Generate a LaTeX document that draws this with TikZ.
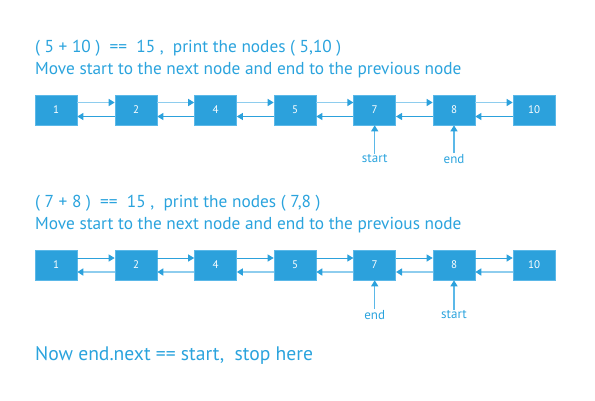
\documentclass[tikz,border=0pt]{standalone}
\usepackage{fontspec}
\setmainfont{PT Sans}
\usetikzlibrary{arrows.meta}
\definecolor{nodeblue}{HTML}{2CA1DC}
\definecolor{lightblue}{HTML}{8ECDEE}
\definecolor{midblue}{HTML}{5BB8E8}
\definecolor{txtblue}{HTML}{2AA3DD}
\tikzset{
  box/.style={draw=midblue, line width=0.6pt, fill=nodeblue, minimum width=42pt, minimum height=30pt, inner sep=0pt, text=white, font=\fontsize{11}{13}\selectfont},
  tip/.style={-{Triangle[length=6pt,width=7pt,color=nodeblue]}},
  darkarrow/.style={tip, draw=nodeblue, line width=1pt},
  lightarrow/.style={tip, draw=lightblue, line width=1.6pt},
  ptr/.style={tip, draw=midblue, line width=1.2pt},
  caption/.style={anchor=base west, inner sep=0pt, text=txtblue, font=\fontsize{17.3}{20}\selectfont},
  lbl/.style={inner sep=0pt, text=txtblue, font=\fontsize{13}{15}\selectfont}
}
\begin{document}
\begin{tikzpicture}[x=1pt,y=-1pt]
\useasboundingbox (0,0) rectangle (595,400);
% captions
\node[caption] (t1) at (35,52) {( 5 + 10 )~~==~~15 ,~~print the nodes ( 5,10 )};
\node[caption] (t2) at (35,74) {Move start to the next node and end to the previous node};
\node[caption] (t3) at (35,207) {( 7 + 8 )~~==~~15 ,~~print the nodes ( 7,8 )};
\node[caption] (t4) at (35,229) {Move start to the next node and end to the previous node};
\node[caption, font=\fontsize{19.6}{23}\selectfont] (t5) at (35,360) {Now end.next == start,~~stop here};
% rows
\foreach \v/\x [count=\i] in {1/56,2/136,4/215.5,5/295,7/374.7,8/454,10/534}{
  \node[box] (a\i) at (\x,110) {\v};
  \node[box] (b\i) at (\x,265) {\v};
}
\foreach \i [evaluate=\i as \j using int(\i+1)] in {1,...,6}{
  \draw[lightarrow] ([yshift=7.5pt]a\i.east) -- ([yshift=7.5pt]a\j.west);
  \draw[darkarrow] ([yshift=-6.5pt]a\j.west) -- ([yshift=-6.5pt]a\i.east);
  \draw[darkarrow] ([yshift=7pt]b\i.east) -- ([yshift=7pt]b\j.west);
  \draw[lightarrow] ([yshift=-7pt]b\j.west) -- ([yshift=-7pt]b\i.east);
}
% pointers row 1
\node[lbl] (s1) at (374.7,159) {start};
\node[lbl] (e1) at (454,159) {end};
\draw[ptr] (s1.north) ++(0,-1) coordinate (s1t) -- (a5.south);
\draw[ptr] (e1.north) ++(0,-1) coordinate (e1t) -- (a6.south);
% pointers row 2
\node[lbl] (e2) at (374.7,315) {end};
\node[lbl] (s2) at (454,315) {start};
\draw[ptr] (e2.north) ++(0,-1) coordinate (e2t) -- (b5.south);
\draw[ptr] (s2.north) ++(0,-1) coordinate (s2t) -- (b6.south);
\end{tikzpicture}
\end{document}
